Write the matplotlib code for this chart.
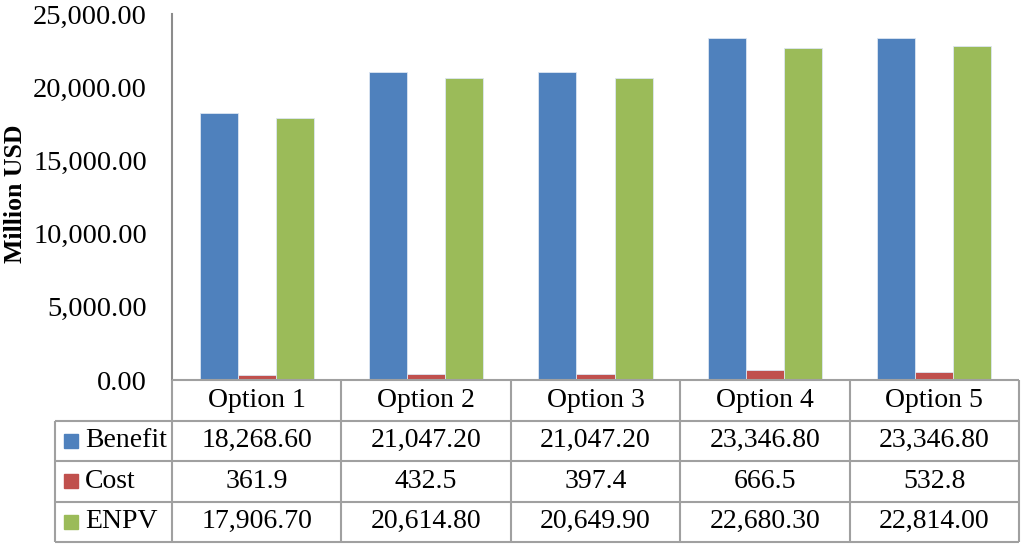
import numpy as np
import matplotlib.pyplot as plt

plt.rcParams['font.family'] = ['Liberation Serif', 'DejaVu Serif']

options = ['Option 1', 'Option 2', 'Option 3', 'Option 4', 'Option 5']
series = ['Benefit', 'Cost', 'ENPV']
benefit = [18268.60, 21047.20, 21047.20, 23346.80, 23346.80]
cost = [361.9, 432.5, 397.4, 666.5, 532.8]
enpv = [17906.70, 20614.80, 20649.90, 22680.30, 22814.00]
benefit_txt = ['18,268.60', '21,047.20', '21,047.20', '23,346.80', '23,346.80']
cost_txt = ['361.9', '432.5', '397.4', '666.5', '532.8']
enpv_txt = ['17,906.70', '20,614.80', '20,649.90', '22,680.30', '22,814.00']
colors = ['#4F81BD', '#C0504D', '#9BBB59']

W, H = 1024, 545
fig = plt.figure(figsize=(W / 100, H / 100), dpi=100)

# main bar axes
x0, x1, ytop, yzero = 172, 1019, 14, 380
ax = fig.add_axes([x0 / W, (H - yzero) / H, (x1 - x0) / W, (yzero - ytop) / H])
x = np.arange(len(options))
bw = 0.225
for i, vals in enumerate([benefit, cost, enpv]):
    ax.bar(x + (i - 1) * bw, vals, bw, color=colors[i], edgecolor='#dce6f2',
           linewidth=0.6, zorder=3)
ax.set_xlim(-0.5, 4.5)
ax.set_ylim(0, 25000)
ax.set_yticks(np.arange(0, 25001, 5000))
ax.set_yticklabels(['{:,.2f}'.format(v) for v in np.arange(0, 25001, 5000)], fontsize=20.5)
ax.set_xticks([])
ax.tick_params(axis='y', length=0, pad=18)
for s in ['top', 'right', 'bottom']:
    ax.spines[s].set_visible(False)
ax.spines['left'].set_color('#8c8c8c')
ax.spines['left'].set_linewidth(1.5)
fig.text(16 / W, 1 - 194 / H, 'Million USD', rotation=90, ha='center', va='center',
         fontsize=18.5, fontweight='bold')

# data table below
tb = 542
tax = fig.add_axes([x0 / W, (H - tb) / H, (x1 - x0) / W, (tb - yzero) / H])
tax.set_xlim(-0.5, 4.5)
tax.set_ylim(0, 4)
tax.axis('off')
lc = '#a0a0a0'
lw = 1.5
left = -0.5 - (x0 - 55) / ((x1 - x0) / 5)
tax.hlines(4, -0.5, 4.5, color=lc, lw=lw, clip_on=False)
for yy in [0, 1, 2, 3]:
    tax.hlines(yy, left, 4.5, color=lc, lw=lw, clip_on=False)
for xx in np.arange(-0.5, 4.6, 1):
    tax.vlines(xx, 0, 4, color=lc, lw=lw, clip_on=False)
tax.vlines(left, 0, 3, color=lc, lw=lw, clip_on=False)

for j, name in enumerate(options):
    tax.text(j, 3.5, name, ha='center', va='center', fontsize=20)
rows = [benefit_txt, cost_txt, enpv_txt]
for i, (label, txt) in enumerate(zip(series, rows)):
    yy = 2.5 - i
    tax.add_patch(plt.Rectangle((left + 0.053, yy - 0.17), 0.083, 0.34,
                                color=colors[i], clip_on=False))
    tax.text(left + 0.177, yy, label, ha='left', va='center', fontsize=20)
    for j, t in enumerate(txt):
        tax.text(j, yy, t, ha='center', va='center', fontsize=20)

fig.savefig('out.png', dpi=100)
